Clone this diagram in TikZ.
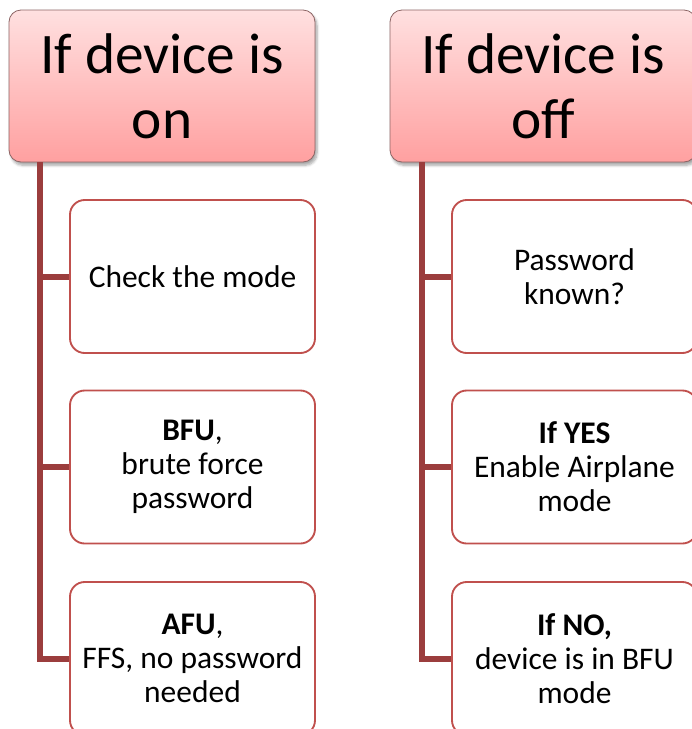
\documentclass[tikz,border=0pt]{standalone}
\usepackage{fontspec}
\setmainfont{Carlito}
\usetikzlibrary{shadows.blur}
\definecolor{hdrtop}{RGB}{255,224,224}
\definecolor{hdrbot}{RGB}{255,160,160}
\definecolor{hdredge}{RGB}{140,100,100}
\definecolor{boxedge}{RGB}{192,80,77}
\definecolor{trunk}{RGB}{155,61,61}
\tikzset{
  header/.style={rounded corners=9pt, draw=hdredge, line width=0.6pt,
    top color=hdrtop, bottom color=hdrbot, minimum width=229.5pt,
    minimum height=114pt, align=center, inner sep=0pt,
    font=\fontsize{43}{48.8}\selectfont,
    blur shadow={shadow xshift=1.5pt, shadow yshift=-2.5pt, shadow blur steps=6, shadow opacity=35}},
  item/.style={rounded corners=11pt, draw=boxedge, line width=1.4pt, fill=white,
    minimum width=183.75pt, minimum height=114.75pt, align=center, inner sep=0pt,
    font=\fontsize{23.6}{25.6}\selectfont},
  link/.style={draw=trunk, line width=4.5pt}
}
\begin{document}
\begin{tikzpicture}[x=0.75pt,y=-0.75pt]
\useasboundingbox (0,0) rectangle (692,729);
\clip (0,0) rectangle (692,729);

% left branch: device on
\node[header] (hL) at (162,86) {If device is\\on};
\coordinate (tL) at (40,162);
\node[item] (l1) at (192.5,276.5) {Check the mode};
\node[item] (l2) at (192.5,467) {\textbf{BFU},\\brute force\\password};
\node[item] (l3) at (192.5,658.5) {\textbf{AFU},\\FFS, no password\\needed};
\draw[link] (tL) |- (l3.west);
\draw[link] (tL |- l1.west) -- (l1.west);
\draw[link] (tL |- l2.west) -- (l2.west);

% right branch: device off
\node[header] (hR) at (543,86) {If device is\\off};
\coordinate (tR) at (422,162);
\node[item] (r1) at (574.5,276.5) {Password\\known?};
\node[item] (r2) at (574.5,467) {\textbf{If YES}\\Enable Airplane\\mode};
\node[item] (r3) at (574.5,658.5) {\textbf{If NO,}\\device is in BFU\\mode};
\draw[link] (tR) |- (r3.west);
\draw[link] (tR |- r1.west) -- (r1.west);
\draw[link] (tR |- r2.west) -- (r2.west);
\end{tikzpicture}
\end{document}
